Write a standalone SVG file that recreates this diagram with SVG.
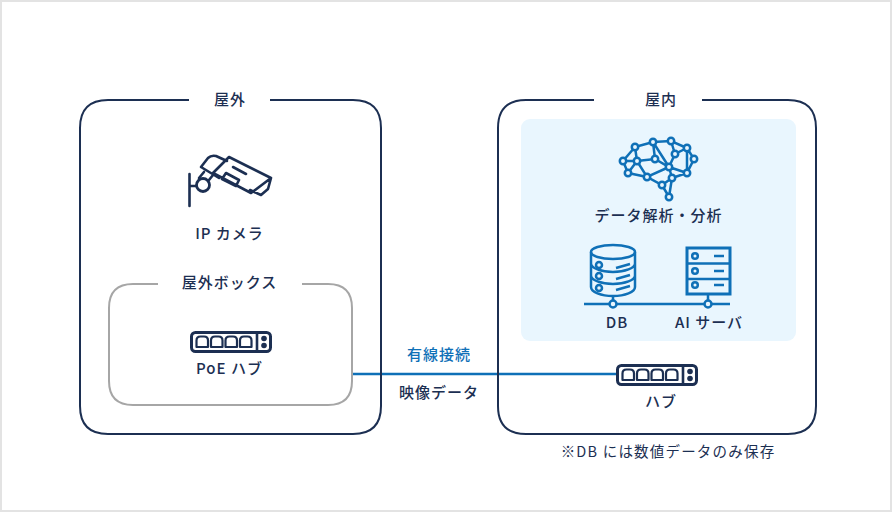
<svg xmlns="http://www.w3.org/2000/svg" width="892" height="512" viewBox="0 0 892 512">
<style>
text{font-family:"Noto Sans CJK JP","Noto Sans",sans-serif;font-size:15px;font-weight:500;fill:#1c2f52;text-anchor:middle;letter-spacing:1px}
.navy{fill:none;stroke:#1c2f52;stroke-width:2.600;stroke-linejoin:round;stroke-linecap:round}
.port{fill:none;stroke:#1c2f52;stroke-width:2.200;stroke-linejoin:round}
.blue{fill:none;stroke:#0f70b7;stroke-width:2.500}
.bf{fill:#e9f6fe;stroke:#0f70b7;stroke-width:2.500}
</style>
<defs>
<g id="hub">
<rect x="1.500" y="1.500" width="79" height="19" rx="4" fill="#fff" stroke="#1c2f52" stroke-width="3"/>
<path class="port" d="M6.500 16V9.500Q6.500 5.500 10.500 5.500H14Q18 5.500 18 9.500V16ZM21 16V9.500Q21 5.500 25 5.500H28.500Q32.500 5.500 32.500 9.500V16ZM35.500 16V9.500Q35.500 5.500 39.500 5.500H43Q47 5.500 47 9.500V16ZM50 16V9.500Q50 5.500 54 5.500H57.500Q61.500 5.500 61.500 9.500V16Z"/>
<path class="navy" d="M67 2V20"/>
<circle cx="74" cy="7.500" r="2.800" fill="#1c2f52"/><circle cx="74" cy="14.500" r="2.800" fill="#1c2f52"/>
</g>
</defs>
<rect x="1" y="1" width="890" height="510" fill="#fff" stroke="#e3e3e3" stroke-width="2"/>

<g id="connectors">
<path d="M352 374H618" fill="none" stroke="#0f70b7" stroke-width="2.500"/>
</g>

<g id="outdoor">
<path d="M189 100H108Q80 100 80 128V406Q80 434 108 434H353Q381 434 381 406V128Q381 100 353 100H270" fill="none" stroke="#1c2f52" stroke-width="2"/>
<text x="230" y="105">屋外</text>
</g>

<g id="ip-camera">
<path class="navy" d="M189.500 174V206M189.500 186H197"/>
<circle cx="203" cy="185" r="6.500" fill="#fff" stroke="#1c2f52" stroke-width="2.800"/>
<path class="navy" d="M201 167L208 158Q211 155 216 156L227 161M201 167L219 178M204 172L199 178M213 175L209 180"/>
<path class="navy" d="M229 157L271 178L251 193L213 173ZM233 167L246 174M226 173L239 180L236 186L222 179ZM271 178L268 189L261 195L250 190"/>
<text x="229.500" y="239">IP カメラ</text>
</g>

<g id="outdoor-box">
<path d="M158 284H133Q109 284 109 308V381Q109 405 133 405H328Q352 405 352 381V308Q352 284 328 284H302" fill="none" stroke="#a6a6a6" stroke-width="2"/>
<text x="229.500" y="288">屋外ボックス</text>
</g>

<g id="poe-hub">
<use href="#hub" x="190" y="331"/>
<text x="229.500" y="374">PoE ハブ</text>
</g>

<g id="indoor">
<path d="M594 100H526Q498 100 498 128V406Q498 434 526 434H788Q816 434 816 406V128Q816 100 788 100H702" fill="none" stroke="#1c2f52" stroke-width="2"/>
<text x="661" y="105">屋内</text>
<rect x="521" y="119" width="275" height="222" rx="9" fill="#e9f6fe"/>
</g>

<g id="analysis">
<path class="blue" d="M635 147L653 142L671 141L687 148L694 159L687 173L669 167L675 154L687 148M671 141L675 154M653 142L655 159M653 142L669 167M635 147L637 161M635 147L623 161L637 161L655 159L669 167L687 173M623 161L628 173L637 161L647 177L669 167M628 173L647 177L662 185L672 178L669 167M672 178L669 197L662 185M687 148V173M672 178L687 173"/>
<g class="bf">
<circle cx="635" cy="147" r="3.200"/><circle cx="653" cy="142" r="3.200"/><circle cx="671" cy="141" r="3.200"/><circle cx="687" cy="148" r="3.200"/><circle cx="694" cy="159" r="3.200"/><circle cx="687" cy="173" r="3.200"/><circle cx="675" cy="154" r="3.200"/><circle cx="669" cy="167" r="3.200"/><circle cx="655" cy="159" r="3.200"/><circle cx="637" cy="161" r="3.200"/><circle cx="623" cy="161" r="3.200"/><circle cx="628" cy="173" r="3.200"/><circle cx="647" cy="177" r="3.200"/><circle cx="662" cy="185" r="3.200"/><circle cx="672" cy="178" r="3.200"/><circle cx="669" cy="197" r="3.200"/>
</g>
<text x="658.500" y="221">データ解析・分析</text>
</g>

<g id="db">
<path class="blue" d="M591 252V287C591 292 601 296 613 296S635 292 635 287V252M591 263.500C591 268 601 272 613 272S635 268 635 263.500M591 275.500C591 280 601 284 613 284S635 280 635 275.500"/>
<ellipse cx="613" cy="252" rx="22" ry="7" fill="none" stroke="#0f70b7" stroke-width="2.500"/>
<circle cx="599" cy="265" r="3" class="blue"/><circle cx="599" cy="276" r="3" class="blue"/><circle cx="599" cy="288" r="3" class="blue"/>
<path class="blue" d="M616 268L630 264M616 279L630 275M616 290L630 286"/>
<path class="blue" d="M613 296V302"/>
<text x="617" y="328">DB</text>
</g>

<g id="ai-server">
<rect x="687" y="248" width="43" height="46" fill="none" stroke="#0f70b7" stroke-width="3"/>
<path class="blue" d="M687 263.500H730M687 279H730M708 294V302"/>
<circle cx="695" cy="256" r="2.800" class="blue"/><circle cx="695" cy="271" r="2.800" class="blue"/><circle cx="695" cy="285" r="2.800" class="blue"/>
<path class="blue" d="M714 256H724M714 271H724M714 285H724"/>
<text x="709" y="328">AI サーバ</text>
</g>

<g id="lan-bus">
<path d="M584 304H730" fill="none" stroke="#0f70b7" stroke-width="2.500"/>
<circle cx="613" cy="304" r="3.500" class="bf"/><circle cx="708" cy="304" r="3.500" class="bf"/>
</g>

<g id="hub-node">
<use href="#hub" x="616" y="364"/>
<text x="661" y="407">ハブ</text>
</g>

<g id="link-labels">
<text x="439" y="360" style="fill:#0f70b7">有線接続</text>
<text x="439" y="398">映像データ</text>
</g>
<text x="668" y="457" style="font-weight:400;font-size:14.500px;letter-spacing:1.200px">※DB には数値データのみ保存</text>
</svg>
